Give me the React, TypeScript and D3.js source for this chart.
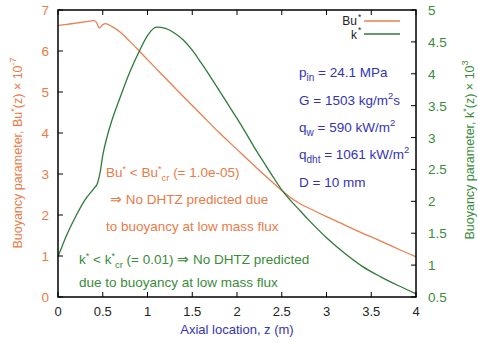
import React from "react";
import * as d3 from "d3";

const zBu = [0, 0.1, 0.2, 0.3, 0.4, 0.43, 0.46, 0.5, 0.53, 0.6, 0.7, 0.8, 0.9, 1.0, 1.2, 1.4, 1.6, 1.8, 2.0, 2.2, 2.4, 2.5, 2.6, 2.7, 2.8, 3.0, 3.2, 3.4, 3.6, 3.8, 4.0];
const buVals = [6.62, 6.65, 6.68, 6.71, 6.74, 6.7, 6.56, 6.64, 6.67, 6.6, 6.45, 6.24, 6.02, 5.79, 5.34, 4.89, 4.45, 4.01, 3.6, 3.19, 2.79, 2.6, 2.42, 2.28, 2.17, 1.96, 1.76, 1.56, 1.37, 1.17, 0.98];

const zK = [0, 0.1, 0.2, 0.3, 0.4, 0.44, 0.47, 0.5, 0.55, 0.6, 0.7, 0.8, 0.9, 1.0, 1.1, 1.2, 1.3, 1.4, 1.5, 1.6, 1.7, 1.8, 1.9, 2.0, 2.1, 2.2, 2.3, 2.4, 2.5, 2.6, 2.7, 2.8, 3.0, 3.2, 3.4, 3.6, 3.8, 4.0];
const kVals = [1.13, 1.48, 1.77, 2.02, 2.2, 2.28, 2.45, 2.72, 3.02, 3.26, 3.65, 4.02, 4.33, 4.6, 4.73, 4.71, 4.64, 4.53, 4.37, 4.17, 3.96, 3.74, 3.52, 3.3, 3.07, 2.83, 2.61, 2.39, 2.18, 2.01, 1.86, 1.71, 1.43, 1.19, 0.98, 0.82, 0.68, 0.55];

const xTicks = [0, 0.5, 1, 1.5, 2, 2.5, 3, 3.5, 4];
const leftTicks = [0, 1, 2, 3, 4, 5, 6, 7];
const rightTicks = [0.5, 1, 1.5, 2, 2.5, 3, 3.5, 4, 4.5, 5];

const ORANGE = "#ea7a48";
const ORANGE_LINE = "#e8804f";
const GREEN = "#3a8c3a";
const GREEN_LINE = "#2f7a38";
const BLUE = "#3434b8";
const FONT = "'Liberation Sans', Arial, Helvetica, sans-serif";

export default function App() {
  const W = 478, H = 343;
  const x = d3.scaleLinear().domain([0, 4]).range([58, 416]);
  const yL = d3.scaleLinear().domain([0, 7]).range([297, 10]);
  const yR = d3.scaleLinear().domain([0.5, 5]).range([297, 10]);

  const buData = zBu.map((z, i) => [z, buVals[i]] as [number, number]);
  const kData = zK.map((z, i) => [z, kVals[i]] as [number, number]);

  const buLine = d3.line<[number, number]>().x(d => x(d[0])).y(d => yL(d[1])).curve(d3.curveMonotoneX);
  const kLine = d3.line<[number, number]>().x(d => x(d[0])).y(d => yR(d[1])).curve(d3.curveMonotoneX);

  const [x0, x1] = x.range();
  const [yb, yt] = yL.range();
  const tl = 5;
  const fs = 13.5;
  const fmt = (v: number) => String(v);

  return (
    <svg width={W} height={H} style={{ position: "absolute", left: 0, top: 0, background: "#fff" }} fontFamily={FONT}>
      {/* curves */}
      <path d={buLine(buData) || ""} fill="none" stroke={ORANGE_LINE} strokeWidth={1.3} />
      <path d={kLine(kData) || ""} fill="none" stroke={GREEN_LINE} strokeWidth={1.3} />

      {/* frame */}
      <rect x={x0} y={yt} width={x1 - x0} height={yb - yt} fill="none" stroke="#000" strokeWidth={1.5} />

      {/* x ticks bottom & top */}
      {xTicks.map(t => (
        <g key={"xt" + t}>
          <line x1={x(t)} x2={x(t)} y1={yb} y2={yb - tl} stroke="#000" strokeWidth={1} />
          <line x1={x(t)} x2={x(t)} y1={yt} y2={yt + tl} stroke="#000" strokeWidth={1} />
          <text x={x(t)} y={yb + 19} textAnchor="middle" fontSize={13} fill="#222">{fmt(t)}</text>
        </g>
      ))}
      {/* left ticks */}
      {leftTicks.map(t => (
        <g key={"lt" + t}>
          <line x1={x0} x2={x0 + tl} y1={yL(t)} y2={yL(t)} stroke="#000" strokeWidth={1} />
          <text x={49} y={yL(t) + 5} textAnchor="end" fontSize={fs} fill={ORANGE}>{fmt(t)}</text>
        </g>
      ))}
      {/* right ticks */}
      {rightTicks.map(t => (
        <g key={"rt" + t}>
          <line x1={x1} x2={x1 - tl} y1={yR(t)} y2={yR(t)} stroke="#000" strokeWidth={1} />
          <text x={428} y={yR(t) + 5} textAnchor="start" fontSize={fs} fill={GREEN}>{fmt(t)}</text>
        </g>
      ))}

      {/* axis titles */}
      <text x={237} y={334} textAnchor="middle" fontSize={13} fill={BLUE}>Axial location, z (m)</text>
      <text transform="translate(22,153) rotate(-90)" textAnchor="middle" fontSize={12.5} fill={ORANGE}>
        Buoyancy parameter, Bu<tspan dy={-5} fontSize={9}>*</tspan><tspan dy={5}>(z) × 10</tspan><tspan dy={-6} fontSize={9}>-7</tspan>
      </text>
      <text transform="translate(474,150) rotate(-90)" textAnchor="middle" fontSize={12.5} fill={GREEN}>
        Buoyancy parameter, k<tspan dy={-5} fontSize={9}>*</tspan><tspan dy={5}>(z) × 10</tspan><tspan dy={-6} fontSize={9}>3</tspan>
      </text>

      {/* legend */}
      <text x={357} y={25} textAnchor="end" fontSize={12} fill="#222">Bu</text>
      <text x={358} y={20} fontSize={8.5} fill="#222">*</text>
      <line x1={364} x2={400} y1={21} y2={21} stroke={ORANGE_LINE} strokeWidth={1.3} />
      <text x={357} y={39} textAnchor="end" fontSize={12} fill="#222">k</text>
      <text x={358} y={33} fontSize={8.5} fill="#222">*</text>
      <line x1={364} x2={400} y1={34} y2={34} stroke={GREEN_LINE} strokeWidth={1.3} />

      {/* parameters */}
      <g fontSize={13.5} fill={BLUE}>
        <text x={299} y={77}>p<tspan dy={4} fontSize={10}>in</tspan><tspan dy={-4}> = 24.1 MPa</tspan></text>
        <text x={299} y={105}>G = 1503 kg/m<tspan dy={-6} fontSize={9.5}>2</tspan><tspan dy={6}>s</tspan></text>
        <text x={299} y={132}>q<tspan dy={4} fontSize={10}>w</tspan><tspan dy={-4}> = 590 kW/m</tspan><tspan dy={-6} fontSize={9.5}>2</tspan></text>
        <text x={299} y={159}>q<tspan dy={4} fontSize={10}>dht</tspan><tspan dy={-4}> = 1061 kW/m</tspan><tspan dy={-6} fontSize={9.5}>2</tspan></text>
        <text x={299} y={187}>D = 10 mm</text>
      </g>

      {/* annotations */}
      <g fontSize={13.5} fill={ORANGE}>
        <text x={106} y={177}>Bu<tspan dy={-5} fontSize={9}>*</tspan><tspan dy={5}> &lt; Bu</tspan><tspan dy={-5} fontSize={9}>*</tspan><tspan dy={9} fontSize={9.5}>cr</tspan><tspan dy={-4}> (= 1.0e-05)</tspan></text>
        <text x={110} y={204}>⇒ No DHTZ predicted due</text>
        <text x={106} y={231}>to buoyancy at low mass flux</text>
      </g>
      <g fontSize={13.5} fill={GREEN}>
        <text x={79} y={264}>k<tspan dy={-5} fontSize={9}>*</tspan><tspan dy={5}> &lt; k</tspan><tspan dy={-5} fontSize={9}>*</tspan><tspan dy={9} fontSize={9.5}>cr</tspan><tspan dy={-4}> (= 0.01)  ⇒ No DHTZ predicted</tspan></text>
        <text x={79} y={287}>due to buoyancy at low mass flux</text>
      </g>
    </svg>
  );
}
